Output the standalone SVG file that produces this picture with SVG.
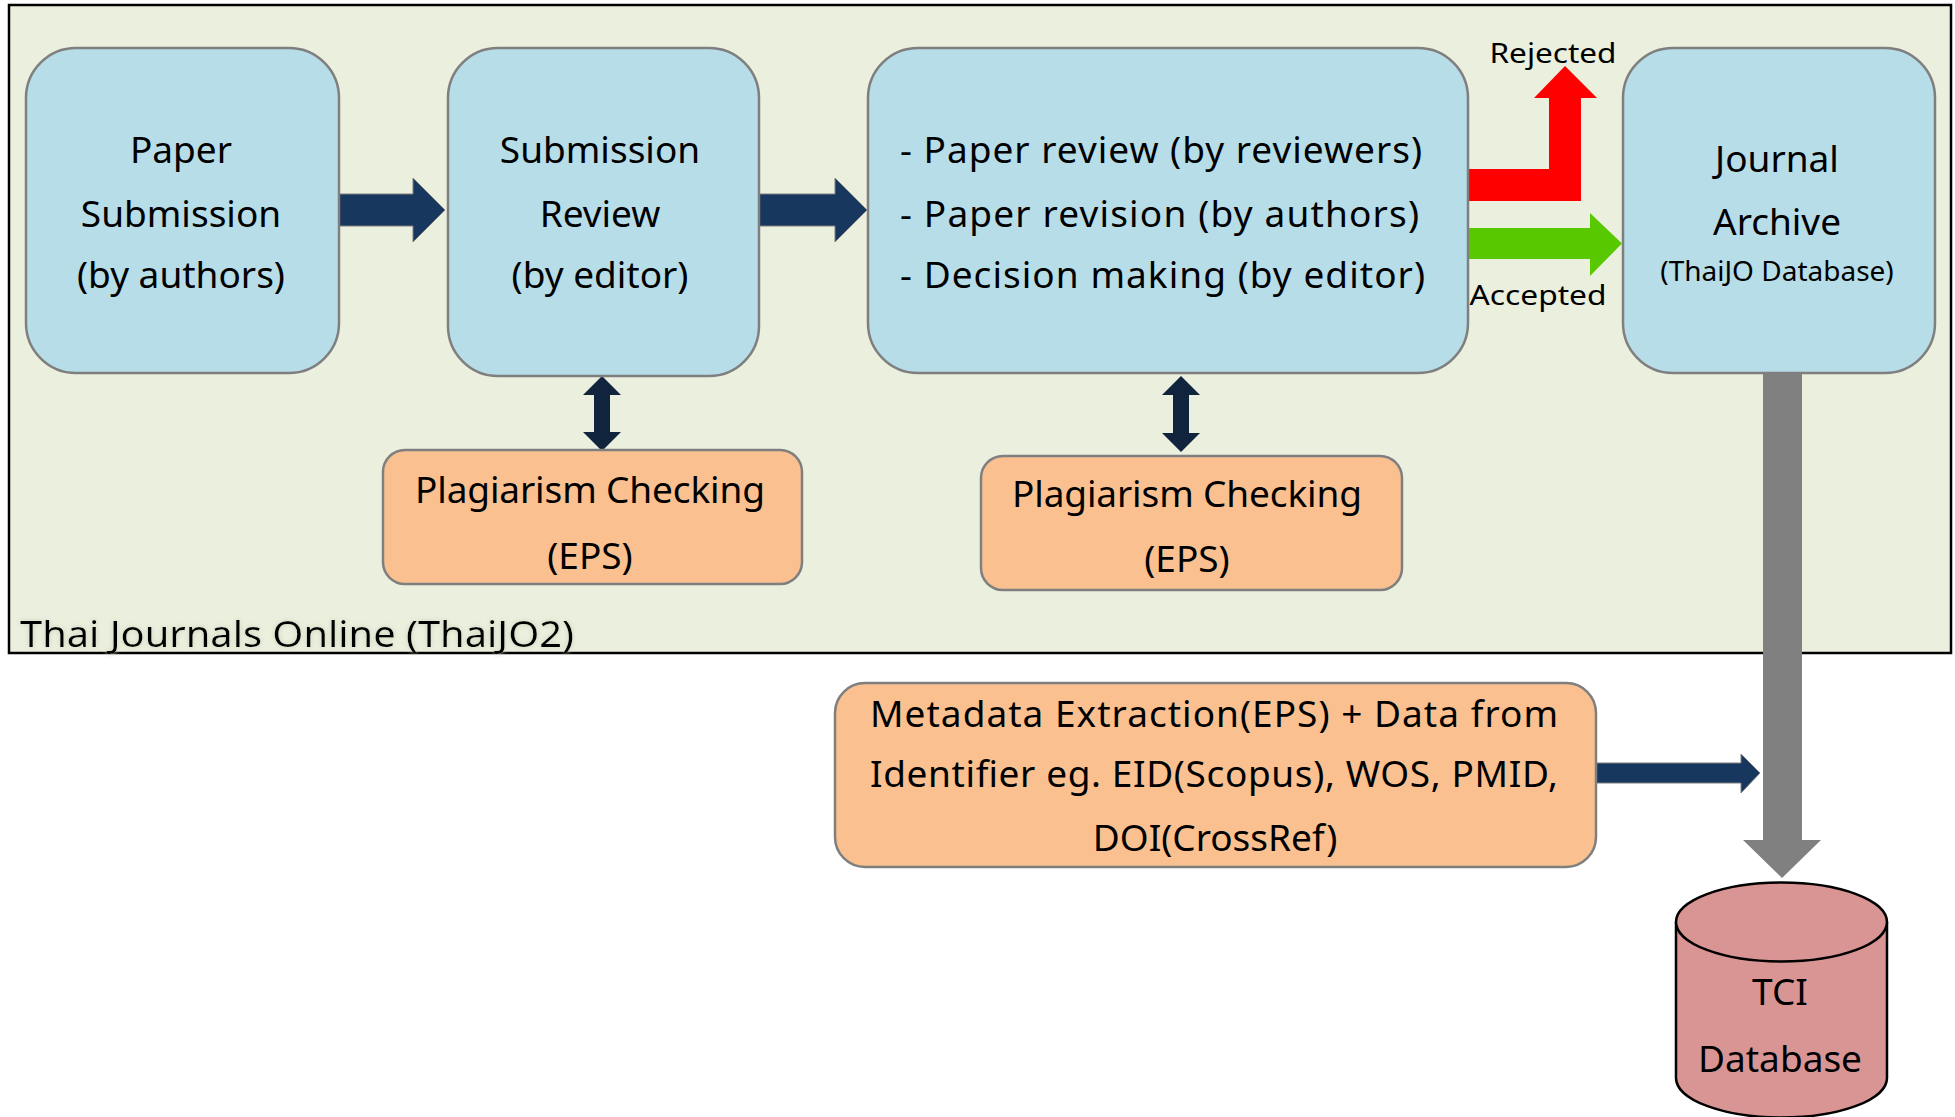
<svg xmlns="http://www.w3.org/2000/svg" width="1955" height="1117" viewBox="0 0 1955 1117">
<style>
text{font-family:"Noto Sans","Open Sans","DejaVu Sans",sans-serif;fill:#000}
.t{font-size:37px}
.s{font-size:28px}
.c{text-anchor:middle}
.blue{fill:#B7DDE8;stroke:#7F7F7F;stroke-width:2.5}
.orange{fill:#FAC090;stroke:#7F7F7F;stroke-width:2.5}
.navy{fill:#17375E;stroke:#7F7F7F;stroke-width:1}
.dnavy{fill:#10243E}
</style>
<defs>
<filter id="glow" x="-5%" y="-30%" width="110%" height="160%">
<feGaussianBlur in="SourceAlpha" stdDeviation="2.5" result="b"/>
<feFlood flood-color="#C9D2B8" result="f"/>
<feComposite in="f" in2="b" operator="in" result="g"/>
<feMerge><feMergeNode in="g"/><feMergeNode in="SourceGraphic"/></feMerge>
</filter>
</defs>
<rect width="1955" height="1117" fill="#FFFFFF"/>
<g id="thaijo-frame">
<rect x="9" y="5" width="1942" height="648" fill="#EBEFDE" stroke="#000" stroke-width="2.5"/>
<text x="20" y="647" class="t" filter="url(#glow)" textLength="554" lengthAdjust="spacingAndGlyphs">Thai Journals Online (ThaiJO2)</text>
</g>
<g id="connectors">
<path class="navy" d="M337 194 H413 V178 L445 210 L413 242 V226 H337 Z"/>
<path class="navy" d="M759 194 H835 V178 L867 210 L835 242 V226 H759 Z"/>
<path class="dnavy" d="M602 376 L621 395 H610 V432 H621 L602 451 L583 432 H594 V395 H583 Z"/>
<path class="dnavy" d="M1181 376 L1200 395 H1189 V433 H1200 L1181 452 L1162 433 H1173 V395 H1162 Z"/>
<path fill="#FF0000" d="M1468 169 H1549 V98 H1534 L1565 66 L1597 98 H1581 V201 H1468 Z"/>
<path fill="#58C800" d="M1465 228 H1590 V213 L1622 243.5 L1590 276 V259 H1465 Z"/>
<path fill="#808080" d="M1763 373 H1802 V840 H1821 L1782 878 L1743 840 H1763 Z"/>
<path class="navy" d="M1596 763 H1741 V754 L1760 773 L1741 793 V783 H1596 Z"/>
<text x="1553" y="63" class="s c" textLength="127" lengthAdjust="spacingAndGlyphs">Rejected</text>
<text x="1538" y="305" class="s c" textLength="137" lengthAdjust="spacingAndGlyphs">Accepted</text>
</g>
<g id="paper-submission">
<rect class="blue" x="26" y="48" width="313" height="325" rx="50" ry="50"/>
<text x="181" y="163" class="t c">Paper</text>
<text x="181" y="227" class="t c">Submission</text>
<text x="181" y="288" class="t c">(by authors)</text>
</g>
<g id="submission-review">
<rect class="blue" x="448" y="48" width="311" height="328" rx="50" ry="50"/>
<text x="600" y="163" class="t c">Submission</text>
<text x="600" y="227" class="t c">Review</text>
<text x="600" y="288" class="t c">(by editor)</text>
</g>
<g id="review-process">
<rect class="blue" x="868" y="48" width="600" height="325" rx="50" ry="50"/>
<text x="900" y="163" class="t" textLength="522" lengthAdjust="spacing">- Paper review (by reviewers)</text>
<text x="900" y="227" class="t" textLength="519" lengthAdjust="spacing">- Paper revision (by authors)</text>
<text x="900" y="288" class="t" textLength="525" lengthAdjust="spacing">- Decision making (by editor)</text>
</g>
<g id="journal-archive">
<rect class="blue" x="1623" y="48" width="312" height="325" rx="50" ry="50"/>
<text x="1777" y="172" class="t c">Journal</text>
<text x="1777" y="235" class="t c">Archive</text>
<text x="1777" y="281" class="s c">(ThaiJO Database)</text>
</g>
<g id="plagiarism-1">
<rect class="orange" x="383" y="450" width="419" height="134" rx="22" ry="22"/>
<text x="590" y="503" class="t c" textLength="350" lengthAdjust="spacing">Plagiarism Checking</text>
<text x="590" y="569" class="t c">(EPS)</text>
</g>
<g id="plagiarism-2">
<rect class="orange" x="981" y="456" width="421" height="134" rx="22" ry="22"/>
<text x="1187" y="507" class="t c" textLength="350" lengthAdjust="spacing">Plagiarism Checking</text>
<text x="1187" y="572" class="t c">(EPS)</text>
</g>
<g id="metadata">
<rect class="orange" x="835" y="683" width="761" height="184" rx="30" ry="30"/>
<text x="870" y="727" class="t" textLength="688" lengthAdjust="spacing">Metadata Extraction(EPS) + Data from</text>
<text x="870" y="787" class="t" textLength="688" lengthAdjust="spacing">Identifier eg. EID(Scopus), WOS, PMID,</text>
<text x="1215" y="851" class="t c">DOI(CrossRef)</text>
</g>
<g id="tci-database">
<path d="M1676 922 V1078 A105.5 39.5 0 0 0 1887 1078 V922" fill="#D99594" stroke="#000" stroke-width="2.5"/>
<ellipse cx="1781.5" cy="922" rx="105.5" ry="39.5" fill="#D99594" stroke="#000" stroke-width="2.5"/>
<text x="1780" y="1005" class="t c">TCI</text>
<text x="1780" y="1072" class="t c">Database</text>
</g>
</svg>
